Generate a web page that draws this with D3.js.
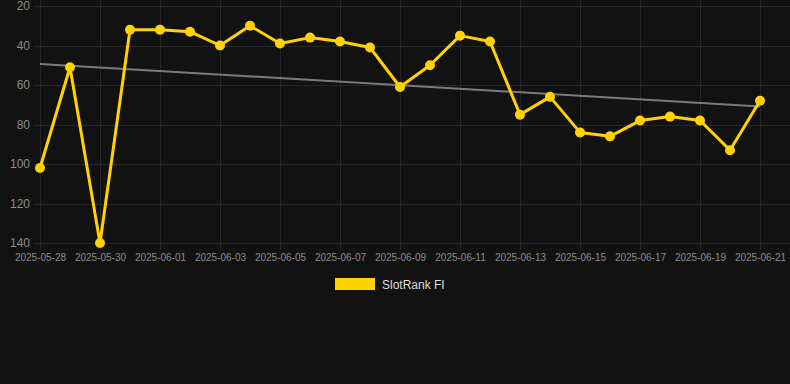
<!DOCTYPE html>
<html>
<head>
<meta charset="utf-8">
<script src="https://cdn.jsdelivr.net/npm/d3@7"></script>
<style>
  html, body { margin: 0; padding: 0; background: #121212; }
  svg { display: block; }
</style>
</head>
<body>
<svg id="chart" width="790" height="384"></svg>
<script>
const dates = ["2025-05-28","2025-05-29","2025-05-30","2025-05-31","2025-06-01","2025-06-02","2025-06-03","2025-06-04","2025-06-05","2025-06-06","2025-06-07","2025-06-08","2025-06-09","2025-06-10","2025-06-11","2025-06-12","2025-06-13","2025-06-14","2025-06-15","2025-06-16","2025-06-17","2025-06-18","2025-06-19","2025-06-20","2025-06-21"];
const ranks = [102,51,140,32,32,33,40,30,39,36,38,41,61,50,35,38,75,66,84,86,78,76,78,93,68];
const yTicks = [20,40,60,80,100,120,140];
const seriesName = "SlotRank FI";

(function () {
const parse = d3.utcParse("%Y-%m-%d");
const fmt = d3.utcFormat("%Y-%m-%d");
const pts = dates.map((d, i) => ({ t: parse(d), v: ranks[i], i }));

const svg = d3.select("#chart");
const pl = 34, pr = 790, pt = 6, pb = 243;

const x = d3.scaleUtc()
  .domain([parse(dates[0]), parse(dates[dates.length - 1])])
  .range([40, 760]);
const y = d3.scaleLinear().domain([20, 140]).range([pt, pb]);

const xTickDates = dates.filter((d, i) => i % 2 === 0).map(parse);

// grid
const grid = svg.append("g");
grid.selectAll("line.h").data(yTicks).join("line")
  .attr("x1", pl).attr("x2", pr)
  .attr("y1", d => Math.round(y(d)) + 0.5).attr("y2", d => Math.round(y(d)) + 0.5)
  .attr("stroke", "#262626").attr("stroke-width", 1);
grid.selectAll("line.v").data(xTickDates).join("line")
  .attr("x1", d => Math.round(x(d)) + 0.5).attr("x2", d => Math.round(x(d)) + 0.5)
  .attr("y1", 0).attr("y2", pb + 7)
  .attr("stroke", "#262626").attr("stroke-width", 1);

// y axis labels
const yAxis = d3.axisLeft(y).tickValues(yTicks).tickSize(0).tickPadding(0);
const gy = svg.append("g").attr("transform", "translate(30,0)").call(yAxis);
gy.select(".domain").remove();
gy.selectAll("text").attr("fill", "#8c8c8c").attr("font-size", "12px")
  .attr("font-family", "Arial, 'Liberation Sans', sans-serif");

// x axis labels
const xAxis = d3.axisBottom(x).tickValues(xTickDates).tickFormat(fmt).tickSize(0).tickPadding(0);
const gx = svg.append("g").attr("transform", `translate(0,${pb + 11})`).call(xAxis);
gx.select(".domain").remove();
gx.selectAll("text").attr("fill", "#8c8c8c").attr("font-size", "10px")
  .attr("font-family", "Arial, 'Liberation Sans', sans-serif");

// trend line (least squares)
const n = ranks.length;
const mx = d3.mean(pts, p => p.i), my = d3.mean(ranks);
const slope = d3.sum(pts, p => (p.i - mx) * (p.v - my)) / d3.sum(pts, p => (p.i - mx) ** 2);
const icpt = my - slope * mx;
svg.append("line")
  .attr("x1", x(pts[0].t)).attr("y1", y(icpt))
  .attr("x2", x(pts[n - 1].t)).attr("y2", y(icpt + slope * (n - 1)))
  .attr("stroke", "#7a7a7a").attr("stroke-width", 2);

// series line
const line = d3.line().x(p => x(p.t)).y(p => y(p.v));
svg.append("path").datum(pts)
  .attr("d", line).attr("fill", "none")
  .attr("stroke", "#FFD200").attr("stroke-width", 3).attr("stroke-linejoin", "round");

svg.selectAll("circle.pt").data(pts).join("circle")
  .attr("cx", p => x(p.t)).attr("cy", p => y(p.v)).attr("r", 5)
  .attr("fill", "#FFD200");

// legend
svg.append("rect").attr("x", 335).attr("y", 278).attr("width", 40).attr("height", 12)
  .attr("fill", "#FFD200");
svg.append("text").attr("x", 382).attr("y", 288.5).text(seriesName)
  .attr("fill", "#dddddd").attr("font-size", "12px")
  .attr("font-family", "Arial, 'Liberation Sans', sans-serif");
})();
</script>
</body>
</html>
